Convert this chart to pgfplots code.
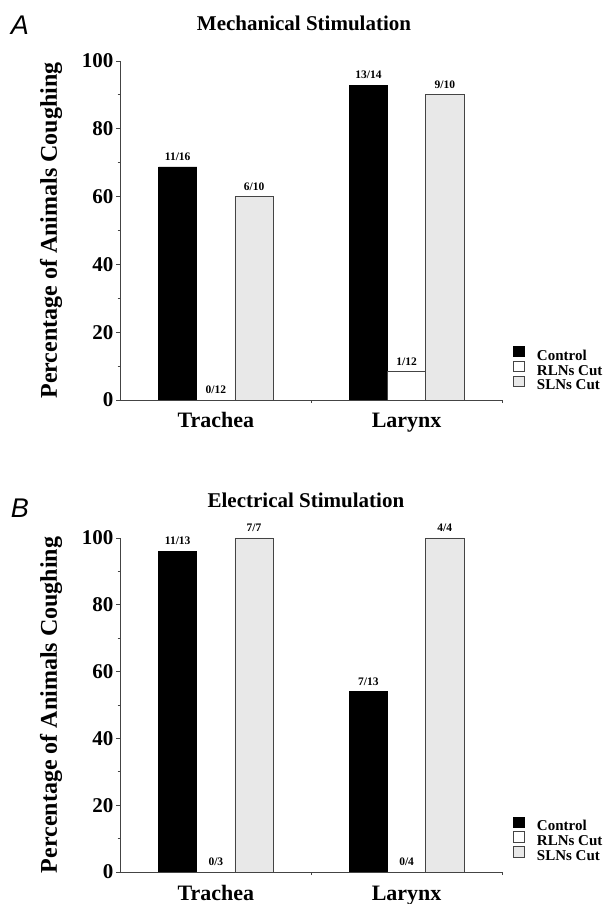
\documentclass[border=0pt]{standalone}
\usepackage{pgfplots}
\pgfplotsset{compat=1.18}
\usepackage{fontspec}
\setmainfont{Liberation Serif}
\newfontfamily\letterfont{Liberation Sans}
\definecolor{axgray}{HTML}{444444}
\definecolor{slngray}{HTML}{E8E8E8}
\newcommand{\fs}[1]{\fontsize{#1}{#1}\selectfont}
\pgfplotsset{
  panel/.style={
    scale only axis, width=381.5pt,
    xmin=-0.5, xmax=1.5, ymin=0, ymax=100,
    axis lines=left, axis line style={-, draw=axgray, line width=0.8pt},
    ytick={0,20,40,60,80,100}, minor ytick={10,30,50,70,90},
    tick align=outside, major tick length=4pt, minor tick length=3pt,
    tick style={draw=axgray, line width=0.8pt},
    xtick={0,1}, xticklabels={Trachea,Larynx},
    major x tick style={draw=none},
    minor xtick={0.5,1.5},
    /pgf/number format/assume math mode=true,
    yticklabel style={font=\bfseries\fs{21}, anchor=east, inner sep=0pt, xshift=-3pt},
    xticklabel style={font=\bfseries\fs{22}, anchor=base, inner sep=0pt, yshift=-24pt},
    ylabel={Percentage of Animals Coughing},
    ylabel style={font=\bfseries\fs{24}, at={(axis description cs:-0.182,0.5)}, anchor=center},
    title style={font=\bfseries\fs{21}, anchor=center},
    nodes near coords, point meta=explicit symbolic,
    every node near coord/.append style={font=\bfseries\fs{11.5}, anchor=south, inner sep=0pt, yshift=6pt, text=black},
    legend style={draw=none, fill=none, inner sep=0pt, outer sep=0pt, row sep=-3.5pt, column sep=0pt,
      nodes={inner sep=0pt, text height=11pt, text depth=4pt}, font=\bfseries\fs{15}},
    legend cell align=left,
  },
  barC/.style={ybar, bar width=38.2pt, bar shift=-38.2pt, fill=black, draw=black, line width=0.8pt,
    every node near coord/.append style={xshift=-38.2pt},
    legend image code/.code={\draw[fill=black, draw=black, line width=0.8pt] (0pt,0pt) rectangle (11pt,10.5pt); \path[draw=none, fill=none] (0pt,0pt) -- (23.5pt,0pt);}},
  barR/.style={ybar, bar width=38.2pt, bar shift=0pt, fill=white, draw=axgray, line width=0.8pt,
    legend image code/.code={\draw[fill=white, draw=axgray, line width=0.8pt] (0pt,0pt) rectangle (11pt,10.5pt); \path[draw=none, fill=none] (0pt,0pt) -- (23.5pt,0pt);}},
  barS/.style={ybar, bar width=38.2pt, bar shift=38.2pt, fill=slngray, draw=axgray, line width=0.8pt,
    every node near coord/.append style={xshift=38.2pt},
    legend image code/.code={\draw[fill=slngray, draw=axgray, line width=0.8pt] (0pt,0pt) rectangle (11pt,10.5pt); \path[draw=none, fill=none] (0pt,0pt) -- (23.5pt,0pt);}},
}
\begin{document}
\begin{tikzpicture}
\useasboundingbox (0pt,0pt) rectangle (605pt,904pt);
% Panel A
\begin{axis}[panel, at={(120.5pt,504pt)}, anchor=south west, height=339pt,
  title={Mechanical Stimulation}, title style={at={(axis description cs:0.481,1.094)}},
  legend style={at={(axis description cs:1.029,0.160)}, anchor=north west}]
\addplot[barC] coordinates {(0,68.75)[11/16] (1,92.86)[13/14]};
\addlegendentry{Control}
\addplot[barR] coordinates {(0,0)[0/12] (1,8.33)[1/12]};
\addlegendentry{RLNs Cut}
\addplot[barS] coordinates {(0,60)[6/10] (1,90)[9/10]};
\addlegendentry{SLNs Cut}
\end{axis}
% Panel B
\begin{axis}[panel, at={(120.5pt,32pt)}, anchor=south west, height=334pt,
  title={Electrical Stimulation}, title style={at={(axis description cs:0.486,1.096)}},
  legend style={at={(axis description cs:1.029,0.166)}, anchor=north west}]
\addplot[barC] coordinates {(0,96)[11/13] (1,54)[7/13]};
\addlegendentry{Control}
\addplot[barR] coordinates {(0,0)[0/3] (1,0)[0/4]};
\addlegendentry{RLNs Cut}
\addplot[barS] coordinates {(0,100)[7/7] (1,100)[4/4]};
\addlegendentry{SLNs Cut}
\end{axis}
\node[font=\letterfont\itshape\fs{27}, anchor=center] at (20pt,879pt) {A};
\node[font=\letterfont\itshape\fs{27}, anchor=center] at (20pt,396pt) {B};
\end{tikzpicture}
\end{document}
